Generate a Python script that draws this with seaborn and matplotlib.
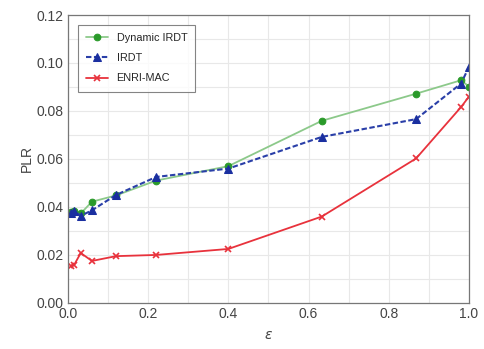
import matplotlib
matplotlib.use("Agg")
import matplotlib.pyplot as plt
from matplotlib.ticker import MultipleLocator
import seaborn as sns
import pandas as pd

# epsilon sweep and packet loss ratio for each scheme
eps = [0.008, 0.016, 0.032, 0.06, 0.12, 0.22, 0.40, 0.633, 0.868, 0.98, 1.0]
plr_dynamic_irdt = [0.0380, 0.0385, 0.0373, 0.0422, 0.0448, 0.0510, 0.0570, 0.0759, 0.0872, 0.0928, 0.0902]
plr_irdt = [0.0376, 0.0384, 0.0363, 0.0386, 0.0450, 0.0525, 0.0560, 0.0692, 0.0766, 0.0914, 0.0984]
plr_enri_mac = [0.0155, 0.0160, 0.0208, 0.0175, 0.0195, 0.0200, 0.0225, 0.0360, 0.0602, 0.0816, 0.0860]

series_names = ["Dynamic IRDT", "IRDT", "ENRI-MAC"]

sns.set_style("white")
plt.rcParams["font.family"] = ["Liberation Sans", "DejaVu Sans"]
plt.rcParams["mathtext.fontset"] = "dejavusans"

fig = plt.figure(figsize=(4.85, 3.49), dpi=100)
ax = fig.add_axes([0.140, 0.132, 0.827, 0.825])

df = pd.DataFrame({"eps": eps, "dyn": plr_dynamic_irdt, "irdt": plr_irdt, "enri": plr_enri_mac})

sns.lineplot(data=df, x="eps", y="dyn", ax=ax, color="#8cc98a", lw=1.3,
             marker="o", markersize=4.8, markerfacecolor="#2a9a2a",
             markeredgecolor="#2a9a2a", label=series_names[0])
sns.lineplot(data=df, x="eps", y="irdt", ax=ax, color="#2a3fa8", lw=1.5,
             linestyle=(0, (2.6, 1.2)), marker="^", markersize=5.2,
             markerfacecolor="#1a2fa0", markeredgecolor="#1a2fa0",
             label=series_names[1])
sns.lineplot(data=df, x="eps", y="enri", ax=ax, color="#e8323c", lw=1.3,
             marker="x", markersize=4.5, markeredgewidth=1.2,
             markeredgecolor="#e8323c", markerfacecolor="#e8323c",
             label=series_names[2])

ax.set_xlim(0, 1.0)
ax.set_ylim(0, 0.12)
ax.xaxis.set_minor_locator(MultipleLocator(0.1))
ax.yaxis.set_minor_locator(MultipleLocator(0.01))
ax.set_xticks([0, 0.2, 0.4, 0.6, 0.8, 1.0])
ax.set_xticklabels(["0.0", "0.2", "0.4", "0.6", "0.8", "1.0"])
ax.set_yticks([0, 0.02, 0.04, 0.06, 0.08, 0.10, 0.12])
ax.set_yticklabels(["0.00", "0.02", "0.04", "0.06", "0.08", "0.10", "0.12"])

ax.grid(True, which="both", color="#e8e8e8", lw=0.8)
ax.set_axisbelow(True)
ax.tick_params(which="major", direction="in", length=3, width=0.8, colors="#888888",
               labelcolor="#444444", labelsize=10, pad=3)
ax.tick_params(which="minor", direction="in", length=2, width=0.6, colors="#888888")
for s in ax.spines.values():
    s.set_color("#777777")
    s.set_linewidth(0.9)

ax.set_xlabel(r"$\epsilon$", fontsize=10, color="#444444", labelpad=5)
ax.set_ylabel("PLR", fontsize=10, color="#444444", labelpad=2)

leg = ax.legend(loc="upper left", fontsize=7.8, frameon=True, fancybox=False,
                edgecolor="#666666", handlelength=2.0, borderpad=0.75,
                labelspacing=0.95, bbox_to_anchor=(0.012, 0.985))
leg.get_frame().set_linewidth(0.8)

fig.savefig("out.png", dpi=100)
